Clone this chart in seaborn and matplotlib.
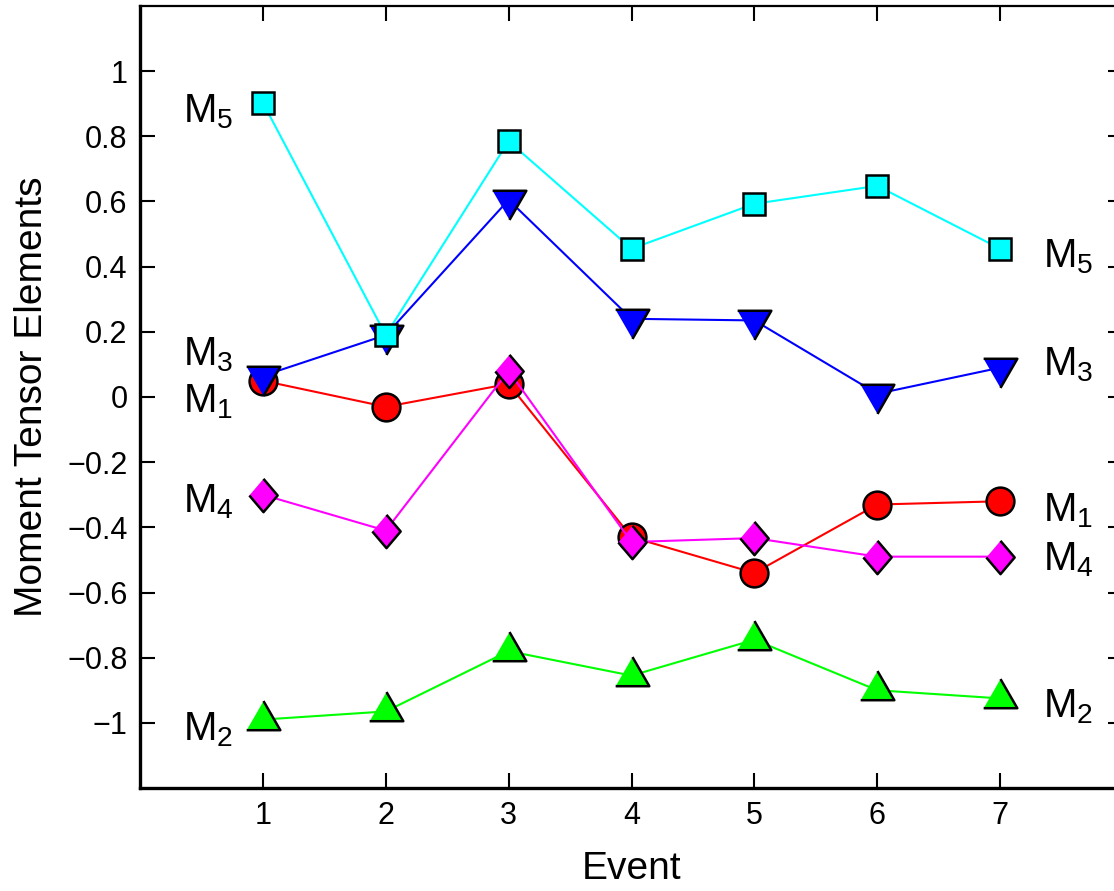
import numpy as np
import pandas as pd
import matplotlib
matplotlib.use('Agg')
import matplotlib.pyplot as plt
import seaborn as sns

events = [1, 2, 3, 4, 5, 6, 7]
m1 = [0.05, -0.03, 0.04, -0.43, -0.54, -0.33, -0.32]
m2 = [-0.99, -0.965, -0.78, -0.855, -0.745, -0.90, -0.925]
m3 = [0.065, 0.19, 0.605, 0.24, 0.235, 0.01, 0.09]
m4 = [-0.30, -0.41, 0.08, -0.445, -0.433, -0.49, -0.49]
m5 = [0.903, 0.19, 0.785, 0.455, 0.593, 0.648, 0.455]

yticks = [-1, -0.8, -0.6, -0.4, -0.2, 0, 0.2, 0.4, 0.6, 0.8, 1]

sns.set_style('ticks')
plt.rcParams['font.family'] = ['Liberation Sans', 'DejaVu Sans']
plt.rcParams['mathtext.fontset'] = 'custom'
plt.rcParams['mathtext.rm'] = 'Liberation Sans'
plt.rcParams['mathtext.it'] = 'Liberation Sans:italic'
plt.rcParams['axes.unicode_minus'] = True
for k in ['text.color', 'axes.labelcolor', 'xtick.color', 'ytick.color', 'axes.edgecolor']:
    plt.rcParams[k] = 'black'

tri_up = [(-1, -0.577), (1, -0.577), (0, 1.155)]
tri_down = [(-1, 0.577), (1, 0.577), (0, -1.155)]
diamond = [(0, 1), (0.85, 0), (0, -1), (-0.85, 0)]

series = [
    ('1', m1, '#ff0000', 'o', 20),
    ('2', m2, '#00ff00', tri_up, 28),
    ('3', m3, '#0000ff', tri_down, 28),
    ('4', m4, '#ff00ff', diamond, 24),
    ('5', m5, '#00ffff', 's', 16),
]

fig = plt.figure(figsize=(11.14, 8.91), dpi=100)
ax = fig.add_axes([140 / 1114, 103 / 891, 983 / 1114, 782 / 891])

for name, vals, col, mk, ms in series:
    sns.lineplot(x=events, y=vals, ax=ax, color=col, linewidth=1.5,
                 marker=mk, markersize=ms, markerfacecolor=col,
                 markeredgecolor='black', markeredgewidth=1.8, clip_on=False)

# series labels at both ends
left_labels = [('5', 0.875), ('3', 0.13), ('1', -0.015), ('4', -0.32), ('2', -1.02)]
right_labels = [('5', 0.43), ('3', 0.10), ('1', -0.35), ('4', -0.50), ('2', -0.95)]
for k, y in left_labels:
    ax.text(0.76, y, r'$\mathrm{M}_{%s}$' % k, fontsize=29, ha='right', va='center')
for k, y in right_labels:
    ax.text(7.35, y, r'$\mathrm{M}_{%s}$' % k, fontsize=29, ha='left', va='center')

ax.set_xlim(0, 8)
ax.set_ylim(-1.2, 1.2)
ax.set_xticks(events)
ax.set_xticklabels([str(e) for e in events], fontsize=22)
ax.set_yticks(yticks)
ax.set_yticklabels([f'{v:g}'.replace('-', '\u2212') for v in yticks], fontsize=22)
ax.set_xlabel('Event', fontsize=28, labelpad=15)
ax.set_ylabel('Moment Tensor Elements', fontsize=28, labelpad=12)

ax.tick_params(direction='in', length=11, width=1.5, top=True, right=True, pad=9)
for s in ['left', 'bottom']:
    ax.spines[s].set_linewidth(2.4)
ax.spines['top'].set_linewidth(1.6)
ax.spines['right'].set_linewidth(1.6)

fig.savefig('out.png', dpi=100)
